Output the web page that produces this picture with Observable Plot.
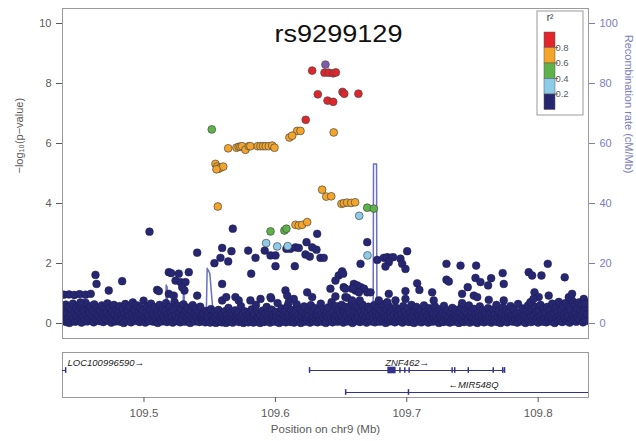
<!DOCTYPE html>
<html>
<head>
<meta charset="utf-8">
<script src="https://cdn.jsdelivr.net/npm/d3@7"></script>
<script src="https://cdn.jsdelivr.net/npm/@observablehq/plot@0.6"></script>
<style>
  body { margin: 0; background: #fff; font-family: "Liberation Sans", Arial, sans-serif; }
  #chart svg { display: block; }
</style>
</head>
<body>
<div id="chart"></div>
<script>
// Regional association plot around rs9299129 (chr9), LD-coloured SNPs,
// recombination rate on the right axis and a gene track underneath.

const leadSnp = "rs9299129";
const xDomain = [109.438, 109.8383];          // Mb
const pTicks = [0, 2, 4, 6, 8, 10];           // -log10(p)
const posTicks = [109.5, 109.6, 109.7, 109.8];

// r² bins, low to high, and their colours
const ldBins = ["0.0-0.2", "0.2-0.4", "0.4-0.6", "0.6-0.8", "0.8-1.0"];
const ldColors = ["#272771", "#8dcbeb", "#5db34a", "#f4a429", "#e2242b"];
const ldTickLabels = ["0.8", "0.6", "0.4", "0.2"];
const indexColor = "#7d5ba8";

// [position (Mb), -log10(p)]
const indexSnp = [109.6381, 8.63];

const redPts = [
  [109.6280,8.43],[109.6374,8.36],[109.6406,8.36],[109.6440,8.34],[109.6460,8.37],
  [109.6323,7.64],[109.6397,7.43],[109.6440,7.39],[109.6511,7.72],[109.6524,7.66],
  [109.6632,7.66],[109.6231,6.79]
];

const orangePts = [
  [109.6444,6.37],[109.6166,6.42],[109.6191,6.42],[109.6107,6.20],[109.6128,6.26],
  [109.5641,5.84],[109.5704,5.86],[109.5721,5.89],[109.5734,5.89],[109.5747,5.91],
  [109.5772,5.79],[109.5798,5.91],[109.5810,5.91],[109.5866,5.91],[109.5887,5.91],
  [109.5907,5.91],[109.5927,5.91],[109.5950,5.91],[109.5976,5.93],[109.5993,5.86],
  [109.5544,5.32],[109.5557,5.23],[109.5569,5.16],[109.5582,5.19],[109.5603,5.23],
  [109.5552,5.14],[109.5562,3.90],[109.6356,4.46],[109.6387,4.23],[109.6425,4.24],
  [109.6503,3.99],[109.6521,4.01],[109.6546,4.03],[109.6577,4.02],[109.6607,4.04],
  [109.6153,3.29],[109.6178,3.27],[109.6204,3.29],[109.6242,3.38]
];

const greenPts = [
  [109.5516,6.47],[109.6699,3.86],[109.6749,3.83],[109.5963,3.07],[109.6069,3.10],[109.6084,3.16]
];

const lightBluePts = [
  [109.6638,3.59],[109.5930,2.68],[109.6014,2.57],[109.6094,2.58],[109.6701,2.27]
];

// r² < 0.2: SNPs standing above the baseline cloud
const navyUpper = [
  [109.4390,0.96],[109.4430,0.97],[109.4470,0.95],[109.4510,0.98],[109.4555,0.96],[109.4595,0.99],[109.4517,0.70],
  [109.4631,1.62],[109.4639,1.32],[109.4732,1.10],[109.4834,1.41],[109.5042,3.06],[109.5100,1.12],[109.5113,1.08],
  [109.5189,1.71],[109.5207,1.68],[109.5265,1.66],[109.5341,1.71],[109.5240,1.43],[109.5278,1.38],[109.5316,1.38],
  [109.5189,0.99],[109.5227,0.93],[109.5308,1.10],[109.5291,1.21],[109.5405,2.36],[109.5405,0.93],
  [109.5536,2.01],[109.5582,2.19],[109.5595,2.52],[109.5641,2.07],[109.5666,2.41],[109.5676,3.16],
  [109.5595,1.32],[109.5595,0.77],[109.5626,0.88],[109.5793,2.43],[109.5849,2.19],[109.5816,1.66],
  [109.5919,2.43],[109.5963,2.27],[109.6001,2.27],[109.6001,1.91],[109.5968,0.84],[109.6084,2.49],
  [109.6115,2.49],[109.6153,2.54],[109.6178,2.52],[109.6237,2.71],[109.6229,2.30],[109.6280,2.54],
  [109.6313,2.46],[109.6318,2.99],[109.6343,2.19],[109.6368,2.19],[109.6148,1.91],[109.6262,2.23],
  [109.5696,0.88],[109.5721,0.77],[109.5810,0.77],[109.5887,0.82],[109.5963,0.88],[109.6077,1.10],
  [109.6090,0.93],[109.6140,0.82],[109.6102,0.71],[109.6242,1.04],[109.6280,0.88],[109.6520,1.21],
  [109.6533,0.88],[109.6482,1.60],[109.6508,1.74],[109.6516,1.66],[109.6457,1.43],[109.6699,2.71],
  [109.6648,1.99],[109.6775,2.12],[109.6825,2.19],[109.6851,2.21],[109.6876,2.19],[109.6896,2.21],
  [109.6863,2.04],[109.6838,1.90],[109.6952,2.16],[109.6965,1.99],[109.6990,1.82],[109.7003,2.41],
  [109.6597,1.32],[109.6623,1.27],[109.6649,1.21],[109.6675,1.16],[109.6610,1.10],[109.6636,1.04],
  [109.6584,1.16],[109.6699,1.04],[109.6724,1.04],[109.6419,1.16],[109.6457,0.90],[109.6533,1.16],
  [109.6546,0.86],[109.6584,0.77],[109.6642,0.77],[109.6787,0.77],[109.6863,0.99],[109.6851,0.71],
  [109.6914,0.77],[109.6990,1.08],[109.6990,0.82],[109.7079,1.34],[109.7096,1.12],[109.7193,1.04],
  [109.7205,0.77],[109.7302,1.99],[109.7302,1.46],[109.7320,1.40],[109.7409,1.93],[109.7528,1.93],
  [109.7523,1.52],[109.7561,1.38],[109.7464,1.21],[109.7421,0.99],[109.7510,0.93],[109.7536,0.88],
  [109.7642,1.51],[109.7619,1.27],[109.7730,1.68],[109.7738,1.32],[109.7928,1.71],[109.7954,1.60],
  [109.8025,1.60],[109.8073,1.99],[109.8202,1.54],[109.7972,1.04],[109.8004,0.88],[109.8080,0.93],
  [109.7738,0.77],[109.7624,0.79],[109.7941,0.71],[109.7421,0.68],[109.7964,0.82],[109.8233,0.88],
  [109.8258,0.99],[109.8347,0.82],[109.8360,0.66]
];

// r² < 0.2: the dense cloud near the baseline
const navyBand = [
  [109.4386,0.08],[109.4391,0.42],[109.4397,0.21],[109.4405,0.63],[109.4409,0.05],[109.4416,0.33],[109.4422,0.14],[109.4428,0.55],[109.4433,0.02],[109.4441,0.27],
  [109.4447,0.48],[109.4452,0.11],[109.4459,0.66],[109.4464,0.19],[109.4470,0.38],[109.4476,0.06],[109.4483,0.52],[109.4488,0.24],[109.4495,0.09],[109.4501,0.44],
  [109.4507,0.61],[109.4512,0.16],[109.4519,0.31],[109.4525,0.03],[109.4531,0.57],[109.4536,0.22],[109.4543,0.40],[109.4549,0.12],[109.4556,0.69],[109.4561,0.29],
  [109.4567,0.07],[109.4574,0.47],[109.4580,0.18],[109.4586,0.36],[109.4592,0.58],[109.4598,0.10],[109.4604,0.25],[109.4611,0.43],[109.4617,0.04],[109.4622,0.64],
  [109.4629,0.20],[109.4635,0.35],[109.4641,0.13],[109.4648,0.51],[109.4653,0.26],[109.4660,0.08],[109.4666,0.45],[109.4672,0.17],[109.4679,0.60],[109.4684,0.32],
  [109.4690,0.05],[109.4697,0.23],[109.4703,0.49],[109.4709,0.14],[109.4715,0.37],[109.4722,0.67],[109.4727,0.09],[109.4734,0.28],[109.4740,0.53],[109.4746,0.19],
  [109.4752,0.03],[109.4759,0.41],[109.4765,0.15],[109.4771,0.62],[109.4777,0.30],[109.4784,0.07],[109.4790,0.46],[109.4796,0.21],
  [109.4802,0.11],[109.4808,0.39],[109.4814,0.58],[109.4820,0.06],[109.4827,0.27],[109.4833,0.15],[109.4839,0.48],[109.4846,0.02],[109.4852,0.34],[109.4858,0.65],
  [109.4864,0.19],[109.4871,0.08],[109.4877,0.42],[109.4883,0.25],[109.4890,0.56],[109.4896,0.12],[109.4902,0.04],[109.4909,0.31],[109.4915,0.70],[109.4921,0.17],
  [109.4928,0.45],[109.4934,0.09],[109.4940,0.23],[109.4947,0.60],[109.4953,0.14],[109.4959,0.37],[109.4966,0.05],[109.4972,0.52],[109.4978,0.28],[109.4985,0.10],
  [109.4991,0.44],[109.4997,0.76],[109.5004,0.20],[109.5010,0.03],[109.5016,0.35],[109.5023,0.57],[109.5029,0.13],[109.5035,0.26],[109.5042,0.08],[109.5048,0.47],
  [109.5054,0.66],[109.5061,0.18],[109.5067,0.33],[109.5073,0.06],[109.5080,0.54],[109.5086,0.22],[109.5092,0.11],[109.5099,0.40],[109.5105,0.02],[109.5111,0.29],
  [109.5118,0.62],[109.5124,0.15],[109.5130,0.36],[109.5137,0.07],[109.5143,0.50],[109.5149,0.24],[109.5156,0.12],[109.5162,0.43],[109.5168,0.68],[109.5175,0.05],
  [109.5181,0.30],[109.5187,0.17],[109.5194,0.55],[109.5200,0.09],[109.5206,0.38],[109.5213,0.21],[109.5219,0.03],[109.5225,0.46],[109.5232,0.72],[109.5238,0.14],
  [109.5244,0.27],[109.5251,0.08],[109.5257,0.59],[109.5263,0.19],[109.5270,0.35],[109.5276,0.04],[109.5282,0.49],[109.5289,0.23],[109.5295,0.12],[109.5301,0.64],
  [109.5308,0.32],[109.5314,0.06],[109.5320,0.41],[109.5327,0.16],[109.5333,0.53],[109.5339,0.10],[109.5346,0.28],[109.5352,0.02],[109.5358,0.45],[109.5365,0.20],
  [109.5371,0.61],[109.5377,0.13],[109.5384,0.34],[109.5390,0.07],[109.5396,0.50],[109.5403,0.24],[109.5409,0.11],[109.5415,0.38],[109.5422,0.05],[109.5428,0.56],
  [109.5434,0.18],[109.5441,0.29],[109.5447,0.09],
  [109.5453,0.31],[109.5459,0.14],[109.5466,0.04],[109.5472,0.42],[109.5478,0.22],[109.5485,0.09],[109.5491,0.36],[109.5497,0.17],[109.5504,0.03],[109.5510,0.48],
  [109.5516,0.26],[109.5523,0.12],[109.5529,0.06],[109.5535,0.39],[109.5542,0.19],[109.5548,0.02],[109.5554,0.30],[109.5561,0.11],[109.5567,0.45],[109.5573,0.07],
  [109.5580,0.24],[109.5586,0.15],[109.5592,0.04],[109.5599,0.33],[109.5605,0.18],[109.5611,0.09],[109.5618,0.41],[109.5624,0.02],[109.5630,0.27],[109.5637,0.13],
  [109.5643,0.52],[109.5649,0.06],[109.5656,0.21],[109.5662,0.35],[109.5668,0.10],[109.5675,0.03],[109.5681,0.28],[109.5687,0.16],[109.5694,0.44],[109.5700,0.08],
  [109.5706,0.23],[109.5713,0.12],[109.5719,0.37],[109.5725,0.05],[109.5732,0.19],[109.5738,0.58],[109.5744,0.10],[109.5751,0.29],[109.5757,0.02],[109.5763,0.15],
  [109.5770,0.40],[109.5776,0.07],[109.5782,0.25],[109.5789,0.13],[109.5795,0.04],[109.5801,0.34],[109.5808,0.18],[109.5814,0.09],[109.5820,0.47],[109.5827,0.22],
  [109.5833,0.03],[109.5839,0.31],[109.5846,0.11],[109.5852,0.62],[109.5858,0.06],[109.5865,0.20],[109.5871,0.38],[109.5877,0.14],[109.5884,0.02],[109.5890,0.27],
  [109.5896,0.09],[109.5903,0.43],[109.5909,0.17],[109.5915,0.05],[109.5922,0.32],[109.5928,0.12],[109.5934,0.55],[109.5941,0.24],[109.5947,0.08],[109.5953,0.36],
  [109.5960,0.03],[109.5966,0.19],[109.5972,0.46],[109.5979,0.10],[109.5985,0.28],[109.5991,0.15],[109.5998,0.06],[109.6004,0.39],[109.6010,0.21],[109.6017,0.68],
  [109.6023,0.11],[109.6029,0.02],[109.6036,0.33],[109.6042,0.16],[109.6048,0.50],[109.6055,0.07],[109.6061,0.26],[109.6067,0.13],[109.6074,0.42],[109.6080,0.04],
  [109.6086,0.22],[109.6093,0.59],[109.6099,0.10],[109.6105,0.30],[109.6112,0.18],[109.6118,0.05],[109.6124,0.45],[109.6131,0.25],[109.6137,0.12],[109.6143,0.03],
  [109.6150,0.37],[109.6156,0.19],[109.6162,0.64],[109.6169,0.08],[109.6175,0.29],[109.6181,0.14],[109.6188,0.48],[109.6194,0.02],[109.6200,0.23],[109.6207,0.40],
  [109.6213,0.11],[109.6219,0.57],[109.6226,0.06],[109.6232,0.32],[109.6238,0.17],[109.6245,0.09],[109.6251,0.44],[109.6257,0.26],[109.6264,0.03],[109.6270,0.61],
  [109.6276,0.13],[109.6283,0.35],[109.6289,0.20],[109.6295,0.07],[109.6302,0.51],[109.6308,0.15],[109.6314,0.28],[109.6321,0.04],[109.6327,0.42],[109.6333,0.22],
  [109.6340,0.10],[109.6346,0.66],[109.6352,0.31],[109.6359,0.06],[109.6365,0.18],[109.6371,0.47],[109.6378,0.12],[109.6384,0.02],[109.6390,0.36],[109.6397,0.24],
  [109.6403,0.54],[109.6409,0.08],[109.6416,0.30],[109.6422,0.15],[109.6428,0.71],[109.6435,0.04],[109.6441,0.39],[109.6447,0.21],[109.6454,0.11],[109.6460,0.58],
  [109.6466,0.27],[109.6473,0.06],[109.6479,0.45],[109.6485,0.16],[109.6492,0.33],
  [109.6498,0.09],[109.6504,0.62],[109.6511,0.24],[109.6517,0.03],[109.6523,0.41],[109.6530,0.14],[109.6536,0.55],[109.6542,0.29],[109.6549,0.07],[109.6555,0.48],
  [109.6561,0.19],[109.6568,0.36],[109.6574,0.11],[109.6580,0.67],[109.6587,0.02],[109.6593,0.26],[109.6599,0.43],[109.6606,0.16],[109.6612,0.58],[109.6618,0.08],
  [109.6625,0.32],[109.6631,0.21],[109.6637,0.50],[109.6644,0.05],[109.6650,0.38],[109.6656,0.13],[109.6663,0.63],[109.6669,0.27],[109.6675,0.10],[109.6682,0.45],
  [109.6688,0.18],[109.6694,0.03],[109.6701,0.34],[109.6707,0.56],[109.6713,0.12],[109.6720,0.24],[109.6726,0.47],[109.6732,0.07],[109.6739,0.30],[109.6745,0.16],
  [109.6751,0.61],[109.6758,0.04],[109.6764,0.39],[109.6770,0.22],[109.6777,0.11],[109.6783,0.52],[109.6789,0.28],[109.6796,0.06],[109.6802,0.43],[109.6808,0.17],
  [109.6815,0.64],[109.6821,0.09],[109.6827,0.33],[109.6834,0.20],[109.6840,0.02],[109.6846,0.49],[109.6853,0.25],[109.6859,0.13],[109.6865,0.57],[109.6872,0.07],
  [109.6878,0.37],[109.6884,0.19],[109.6891,0.44],[109.6897,0.10],[109.6903,0.29],[109.6910,0.04],[109.6916,0.53],[109.6922,0.15],[109.6929,0.35],[109.6935,0.23],
  [109.6941,0.08],[109.6948,0.46],[109.6954,0.12],[109.6960,0.31],[109.6967,0.03],[109.6973,0.58],[109.6979,0.18],[109.6986,0.40],[109.6992,0.09],[109.6998,0.26],
  [109.7005,0.14],[109.7011,0.50],[109.7017,0.05],[109.7024,0.33],[109.7030,0.21],[109.7036,0.62],[109.7043,0.11],[109.7049,0.28],[109.7055,0.02],[109.7062,0.42],
  [109.7068,0.17],[109.7074,0.55],[109.7081,0.07],[109.7087,0.36],[109.7093,0.24],[109.7100,0.13],[109.7106,0.47],[109.7112,0.04],[109.7119,0.30],[109.7125,0.19],
  [109.7131,0.60],[109.7138,0.09],[109.7144,0.38],[109.7150,0.15],[109.7157,0.27],[109.7163,0.03],[109.7169,0.51],[109.7176,0.20],[109.7182,0.11],[109.7188,0.43],
  [109.7195,0.06],[109.7201,0.32],[109.7207,0.16],[109.7214,0.57],[109.7220,0.08],[109.7226,0.25],[109.7233,0.39],[109.7239,0.13],[109.7245,0.02],[109.7252,0.48],
  [109.7258,0.22],[109.7264,0.10],[109.7271,0.34],[109.7277,0.05],[109.7283,0.59],[109.7290,0.18],[109.7296,0.29],[109.7302,0.07],[109.7309,0.44],[109.7315,0.14],
  [109.7321,0.23],[109.7328,0.03],[109.7334,0.37],[109.7340,0.12],
  [109.7347,0.52],[109.7353,0.20],[109.7359,0.06],[109.7366,0.31],[109.7372,0.15],[109.7378,0.45],[109.7385,0.09],[109.7391,0.26],[109.7397,0.02],[109.7404,0.38],
  [109.7410,0.17],[109.7416,0.55],[109.7423,0.11],[109.7429,0.28],[109.7435,0.05],[109.7442,0.42],[109.7448,0.19],[109.7454,0.08],[109.7461,0.33],[109.7467,0.13],
  [109.7473,0.60],[109.7480,0.03],[109.7486,0.24],[109.7492,0.40],[109.7499,0.10],[109.7505,0.18],[109.7511,0.49],[109.7518,0.06],[109.7524,0.30],[109.7530,0.14],
  [109.7537,0.02],[109.7543,0.36],[109.7549,0.22],[109.7556,0.57],[109.7562,0.09],[109.7568,0.27],[109.7575,0.12],[109.7581,0.44],[109.7587,0.04],[109.7594,0.20],
  [109.7600,0.34],[109.7606,0.15],[109.7613,0.07],[109.7619,0.51],[109.7625,0.25],[109.7632,0.11],[109.7638,0.38],[109.7644,0.03],[109.7651,0.18],[109.7657,0.46],
  [109.7663,0.09],[109.7670,0.29],[109.7676,0.14],[109.7682,0.62],[109.7689,0.05],[109.7695,0.23],[109.7701,0.40],[109.7708,0.12],[109.7714,0.02],[109.7720,0.33],
  [109.7727,0.17],[109.7733,0.54],[109.7739,0.08],[109.7746,0.26],[109.7752,0.13],[109.7758,0.43],[109.7765,0.04],[109.7771,0.21],[109.7777,0.36],[109.7784,0.10],
  [109.7790,0.58],[109.7796,0.16],[109.7803,0.28],[109.7809,0.06],[109.7815,0.47],[109.7822,0.19],[109.7828,0.11],[109.7834,0.32],[109.7841,0.03],[109.7847,0.65],
  [109.7853,0.22],[109.7860,0.14],[109.7866,0.39],[109.7872,0.07],[109.7879,0.25],[109.7885,0.50],[109.7891,0.12],[109.7898,0.30],[109.7904,0.02],[109.7910,0.44],
  [109.7917,0.17],[109.7923,0.60],[109.7929,0.09],[109.7936,0.35],[109.7942,0.20],[109.7948,0.05],[109.7955,0.48],[109.7961,0.13],[109.7967,0.27],[109.7974,0.56],
  [109.7980,0.08],[109.7986,0.38],[109.7993,0.18],[109.7999,0.03],[109.8005,0.42],[109.8012,0.24],[109.8018,0.62],[109.8024,0.11],[109.8031,0.31],[109.8037,0.06],
  [109.8043,0.49],[109.8050,0.16],[109.8056,0.36],[109.8062,0.04],[109.8069,0.55],[109.8075,0.21],[109.8081,0.10],[109.8088,0.44],[109.8094,0.27],[109.8100,0.07],
  [109.8107,0.66],[109.8113,0.15],[109.8119,0.33],[109.8126,0.02],[109.8132,0.51],[109.8138,0.19],[109.8145,0.40],[109.8151,0.09],[109.8157,0.72],[109.8164,0.25],
  [109.8170,0.13],[109.8176,0.47],[109.8183,0.05],[109.8189,0.58],[109.8195,0.30],[109.8202,0.17],[109.8208,0.68],[109.8214,0.08],[109.8221,0.39],[109.8227,0.22],
  [109.8233,0.54],[109.8240,0.03],[109.8246,0.45],[109.8252,0.14],[109.8259,0.76],[109.8265,0.28],[109.8271,0.10],[109.8278,0.60],[109.8284,0.35],[109.8290,0.06],
  [109.8297,0.50],[109.8303,0.19],[109.8309,0.70],[109.8316,0.12],[109.8322,0.41],[109.8328,0.26],[109.8335,0.64],[109.8341,0.04],[109.8347,0.37],[109.8354,0.18],
  [109.8360,0.55],[109.8366,0.09],[109.8373,0.31],[109.8379,0.68]
];

// recombination rate: [position (Mb), cM/Mb]
const recombRate = [
  [109.4380,0.6],[109.4600,0.4],[109.4900,0.8],[109.5100,0.5],[109.5166,0.6],[109.5169,12.8],[109.5176,12.2],
  [109.5180,0.7],[109.5297,0.6],[109.5300,10.2],[109.5305,9.6],[109.5309,0.8],[109.5400,2.4],[109.5474,2.6],
  [109.5481,18.4],[109.5501,16.7],[109.5531,0.9],[109.5700,0.5],[109.6000,0.3],[109.6400,0.4],[109.6744,0.6],
  [109.6747,53.2],[109.6770,53.2],[109.6773,0.4],[109.7000,0.2],[109.7500,0.3],[109.8000,0.2],[109.8383,0.4]
];

// gene track
const geneNames  = ["LOC100996590", "ZNF462", "MIR548Q"];
const geneStart  = [109.3500, 109.6260, 109.6535];
const geneEnd    = [109.4404, 109.7744, 109.8480];
const geneStrand = ["+", "+", "-"];
const geneRow    = [0, 0, 1];
const geneExons  = [
  [109.4404],
  [109.6260, 109.6948, 109.6985, 109.7018, 109.7345, 109.7365, 109.7468, 109.7658, 109.7730, 109.7744],
  [109.6535, 109.7013]
];
const geneBlocks = [[1, 109.6856, 109.6919]];   // [gene index, start, end]

const fontFamily = '"Liberation Sans", Arial, Helvetica, sans-serif';
const axisGrey = "#5a5a5a";
const recombColor = "#6a70c4";
const recombText = "#7b7dbb";
const geneColor = "#33338c";

// ---- tables built from the arrays above
const toRows = (arr, ld) => arr.map(([pos, p]) => ({pos, p, ld}));
const navyRows = [...toRows(navyBand, ldBins[0]), ...toRows(navyUpper, ldBins[0])];
const ldRows = [
  ...toRows(lightBluePts, ldBins[1]),
  ...toRows(greenPts, ldBins[2]),
  ...toRows(orangePts, ldBins[3]),
  ...toRows(redPts, ldBins[4])
];
const recombRows = recombRate.map(([pos, rate]) => ({pos, rate}));

const genes = geneNames.map((name, i) => ({
  name, start: geneStart[i], end: geneEnd[i], strand: geneStrand[i], row: geneRow[i],
  label: geneStrand[i] === "+" ? name + "\u2192" : "\u2190" + name,
  mid: (geneStart[i] + geneEnd[i]) / 2
}));
const exonRows = genes.flatMap((g, i) => geneExons[i].map(pos => ({pos, row: g.row})));
const blockRows = geneBlocks.map(([i, s, e]) => ({start: s, end: e, row: genes[i].row}));

// ---- association panel
const main = Plot.plot({
  width: 636,
  height: 342,
  marginTop: 8,
  marginBottom: 4,
  marginLeft: 62,
  marginRight: 48,
  style: {fontFamily, fontSize: "11px", color: axisGrey, background: "white"},
  x: {domain: xDomain, axis: null},
  y: {domain: [-0.5, 10.5]},
  color: {domain: ldBins, range: ldColors},
  marks: [
    Plot.line(recombRows, {x: "pos", y: d => d.rate / 10, stroke: recombColor, strokeWidth: 1.5, clip: true}),
    Plot.dot(navyRows, {x: "pos", y: "p", r: 3.9, fill: "ld", stroke: "#1c1c55", strokeWidth: 0.5, clip: true}),
    Plot.dot(ldRows, {x: "pos", y: "p", r: 3.9, fill: "ld", stroke: "#4a4a4a", strokeWidth: 0.7, clip: true}),
    Plot.dot([indexSnp], {x: d => d[0], y: d => d[1], r: 3.9, fill: indexColor, stroke: "#4a4a4a", strokeWidth: 0.7}),
    Plot.frame({stroke: "#9a9a9a"}),
    Plot.axisY({anchor: "left", ticks: pTicks, tickSize: 6, tickPadding: 5, fontSize: 11, label: null, color: axisGrey}),
    Plot.axisY({anchor: "right", ticks: pTicks, tickFormat: d => d * 10, tickSize: 6, tickPadding: 5, fontSize: 11, label: null, color: recombText}),
    Plot.text(["\u2212log\u2081\u2080(p\u2212value)"], {frameAnchor: "left", dx: -43, rotate: -90, fontSize: 11, fill: axisGrey}),
    Plot.text(["Recombination rate (cM/Mb)"], {frameAnchor: "right", dx: 40, rotate: 90, fontSize: 11, fill: recombText}),
    Plot.text([leadSnp], {frameAnchor: "top", lineAnchor: "middle", dx: 13, dy: 26, fontSize: 23, fill: "#111", className: "lead-title"})
  ]
});

// the lead SNP name is set slightly wide
d3.select(main).selectAll(".lead-title text")
  .attr("textLength", 128).attr("lengthAdjust", "spacingAndGlyphs");

// r² colour key in the upper-right corner of the panel
{
  const key = d3.select(main).append("g").attr("font-family", fontFamily).attr("font-size", 10);
  const kx = 537, ky = 11, kw = 46, kh = 104, sx = 544, sw = 11, sy = 32, sh = 15.5;
  key.append("rect").attr("x", kx).attr("y", ky).attr("width", kw).attr("height", kh)
    .attr("fill", "white").attr("stroke", "#9a9a9a");
  key.append("text").attr("x", sx + 6).attr("y", ky + 10).attr("text-anchor", "middle")
    .attr("fill", "#333").text("r\u00b2");
  const top = ldColors.slice().reverse();
  key.selectAll("rect.sw").data(top).join("rect").attr("class", "sw")
    .attr("x", sx).attr("y", (d, i) => sy + i * sh).attr("width", sw).attr("height", sh)
    .attr("fill", d => d).attr("stroke", "#555").attr("stroke-width", 0.5);
  key.selectAll("line.tk").data(ldTickLabels).join("line").attr("class", "tk")
    .attr("x1", sx + sw).attr("x2", sx + sw + 3)
    .attr("y1", (d, i) => sy + (i + 1) * sh).attr("y2", (d, i) => sy + (i + 1) * sh)
    .attr("stroke", "#777");
  key.selectAll("text.lb").data(ldTickLabels).join("text").attr("class", "lb")
    .attr("x", sx + sw + 7).attr("y", (d, i) => sy + (i + 1) * sh).attr("dy", "0.35em")
    .attr("font-size", 9.5).attr("fill", axisGrey).text(d => d);
}

// ---- gene track
const inView = genes.filter(g => g.mid >= xDomain[0]);
const leftOfView = genes.filter(g => g.mid < xDomain[0]);

const track = Plot.plot({
  width: 636,
  height: 99,
  marginTop: 10,
  marginBottom: 44,
  marginLeft: 62,
  marginRight: 48,
  style: {fontFamily, fontSize: "11px", color: axisGrey, background: "white"},
  x: {domain: xDomain},
  y: {domain: [1.227, -0.818], axis: null},
  marks: [
    Plot.frame({stroke: "#9a9a9a"}),
    Plot.ruleY(genes, {x1: "start", x2: "end", y: "row", stroke: geneColor, strokeWidth: 1.1, clip: true}),
    Plot.ruleX(exonRows, {x: "pos", y1: d => d.row - 0.13, y2: d => d.row + 0.13, stroke: geneColor, strokeWidth: 1.5, clip: true}),
    Plot.rect(blockRows, {x1: "start", x2: "end", y1: d => d.row - 0.15, y2: d => d.row + 0.15, fill: geneColor, clip: true}),
    Plot.text(inView, {x: "mid", y: "row", text: "label", dy: -8, fontStyle: "italic", fontSize: 9.5, fill: "#222"}),
    Plot.text(leftOfView, {x: () => xDomain[0], y: "row", text: "label", dx: 5, dy: -8, textAnchor: "start", fontStyle: "italic", fontSize: 9.5, fill: "#222"}),
    Plot.axisX({ticks: posTicks, tickFormat: d3.format(".1f"), tickSize: 5, tickPadding: 6, fontSize: 11.5, label: null, color: axisGrey}),
    Plot.text(["Position on chr9 (Mb)"], {frameAnchor: "bottom", dy: 35, fontSize: 11.5, fill: axisGrey})
  ]
});

const chart = document.getElementById("chart");
chart.append(main, track);
</script>
</body>
</html>
